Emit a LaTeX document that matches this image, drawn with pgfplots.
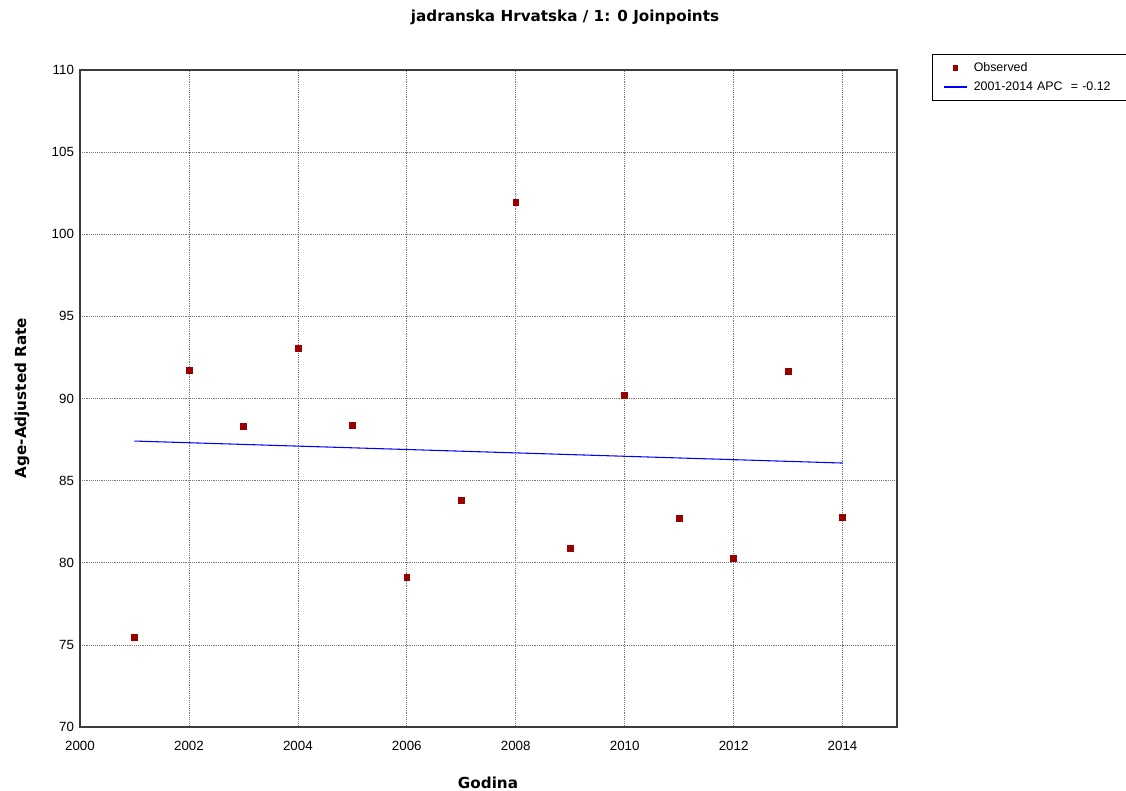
\documentclass[border=0pt]{standalone}
\usepackage{fontspec}
\setmainfont{Liberation Sans}
\newfontfamily\vfont{DejaVu Sans}
\usepackage{pgfplots}
\pgfplotsset{compat=1.18}
\definecolor{obsred}{RGB}{153,0,0}
\definecolor{gridgray}{RGB}{120,120,120}
\definecolor{axgray}{RGB}{60,60,60}
\begin{document}
\begin{tikzpicture}
\path[use as bounding box] (0pt,0pt) rectangle (844.5pt,593.25pt);
\begin{axis}[
    at={(60pt,48pt)}, anchor=south west,
    scale only axis, width=612.75pt, height=492.75pt,
    xmin=2000, xmax=2015, ymin=70, ymax=110,
    xtick={2000,2002,...,2014}, ytick={70,75,...,110},
    major tick length=0pt,
    grid=major,
    major grid style={gridgray, densely dotted, line width=0.5pt},
    axis line style={axgray, line width=0.8pt},
    tick label style={font=\fontsize{10}{11}\selectfont, /pgf/number format/assume math mode=true},
    /pgf/number format/1000 sep={},
    xticklabel style={yshift=-7pt},
    yticklabel style={xshift=-1pt},
    legend style={at={(1.0428,1.0244)}, anchor=north west, draw=black, line width=0.6pt,
      font=\fontsize{9.3}{11}\selectfont, text width=122pt, inner xsep=2pt, inner ysep=4pt,
      legend cell align=left, row sep=2pt},
]
\addlegendimage{legend image code/.code={%
  \path[draw=none, fill=none] (0cm,0cm) -- (0.95cm,0cm);
  \fill[obsred, draw=none] (0.54cm-2pt,-2pt) rectangle (0.54cm+2pt,2pt);}}
\addlegendentry{Observed}
\addlegendimage{legend image code/.code={%
  \path[draw=none, fill=none] (0cm,0cm) -- (0.95cm,0cm);
  \draw[blue, line width=1.5pt] (0.24cm,0cm) -- (0.85cm,0cm);}}
\addlegendentry{2001-2014 APC\ \ = -0.12}
\addplot[only marks, mark=square*, mark size=2.2pt, color=obsred, mark options={fill=obsred}, forget plot]
coordinates {
(2001,75.48) (2002,91.73) (2003,88.33) (2004,93.07) (2005,88.39)
(2006,79.13) (2007,83.82) (2008,101.96) (2009,80.90) (2010,90.21)
(2011,82.72) (2012,80.29) (2013,91.67) (2014,82.79)
};
\addplot[blue, line width=0.8pt, forget plot]
coordinates {(2001,87.41) (2014,86.07)};
\end{axis}
\node[font=\vfont\bfseries\fontsize{11.4}{13}\selectfont] at (423.75pt,580.5pt) {jadranska Hrvatska / 1: 0 Joinpoints};
\node[font=\vfont\bfseries\fontsize{11.4}{13}\selectfont, rotate=90] at (16.5pt,294.75pt) {Age-Adjusted Rate};
\node[font=\vfont\bfseries\fontsize{11.4}{13}\selectfont, inner sep=0pt, anchor=base] at (366pt,2pt) {Godina};
\end{tikzpicture}
\end{document}
